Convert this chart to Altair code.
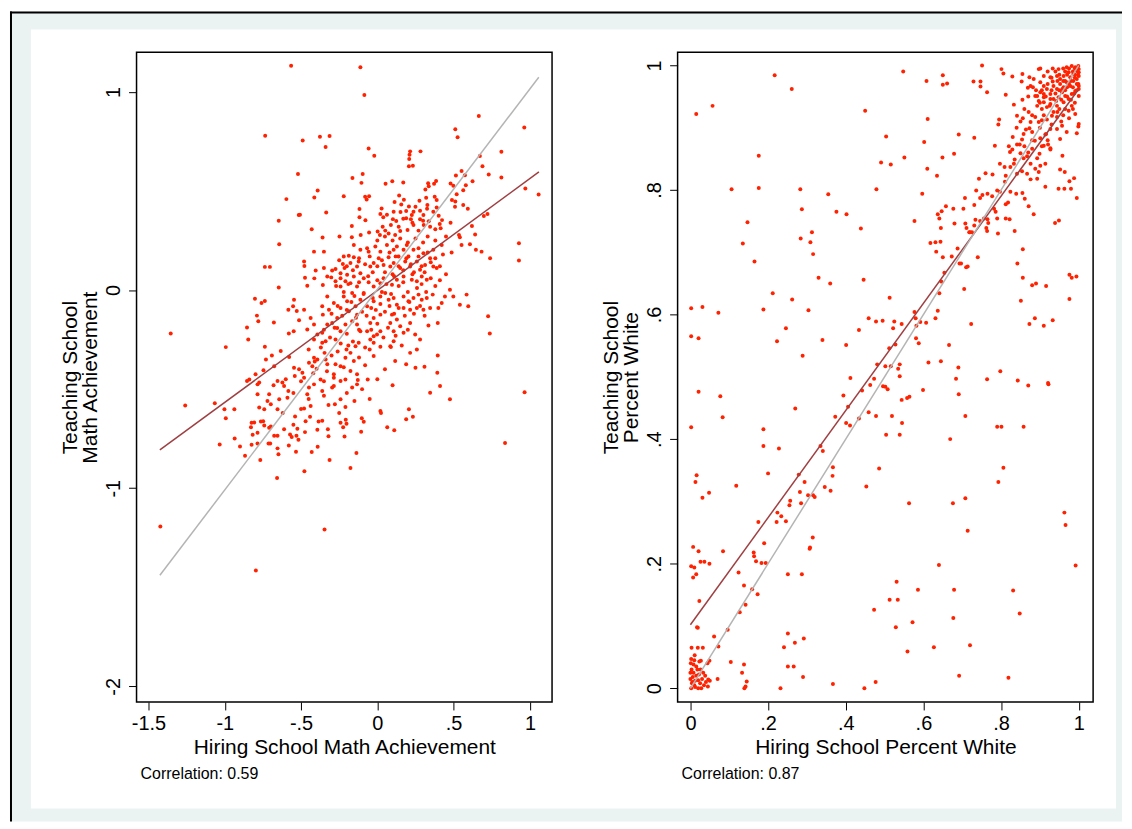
import altair as alt
import pandas as pd

# ---------------- data ----------------
# Left panel: (hiring school math achievement, teaching school math achievement)
math_points = [
(-0.565,1.132),(-0.111,1.124),(-0.085,0.985),(-0.735,0.779),(-0.489,0.755),(-0.376,0.774),(-0.313,0.777),(-0.339,0.722),
(-0.057,0.714),(-0.02,0.678),(0.215,0.700),(0.211,0.683),(0.209,0.662),(0.207,0.625),(0.233,0.628),(0.283,0.700),
(0.665,0.878),(0.511,0.812),(0.526,0.771),(0.963,0.821),(0.813,0.698),(0.672,0.677),(0.689,0.625),(0.730,0.583),
(0.813,0.568),(0.970,0.513),(1.057,0.482),(-0.520,0.586),(-0.596,0.459),(-0.646,0.350),(-0.515,0.379),(-0.507,0.380),
(-0.413,0.467),(-0.391,0.503),(-0.335,0.392),(-0.430,0.307),(-0.359,0.265),(-0.248,0.270),(-0.220,0.474),(-0.163,0.566),
(-0.096,0.586),(-0.104,0.541),(-0.080,0.471),(-0.054,0.474),(-0.07,0.457),(-0.117,0.409),(-0.117,0.367),(-0.078,0.352),
(-0.167,0.323),(-0.167,0.266),(-0.109,0.278),(-0.054,0.290),(0.054,0.536),(0.098,0.549),(0.170,0.543),(0.143,0.477),
(0.174,0.456),(0.113,0.444),(0.157,0.432),(0.207,0.422),(0.028,0.412),(0.02,0.384),(0.063,0.380),(0.107,0.395),
(0.152,0.394),(0.189,0.399),(0.237,0.395),(0.226,0.379),(0.220,0.358),(0.189,0.363),(0.039,0.367),(0.102,0.358),
(0.124,0.348),(0.089,0.328),(0.035,0.320),(0.052,0.300),(0.002,0.296),(0.017,0.278),(0.074,0.286),(0.117,0.278),
(0.150,0.298),(0.198,0.303),(0.237,0.328),(0.276,0.451),(0.333,0.539),(0.385,0.551),(0.372,0.536),(0.337,0.524),
(0.315,0.508),(0.320,0.466),(0.376,0.471),(0.389,0.454),(0.328,0.429),(0.326,0.410),(0.389,0.417),(0.367,0.395),
(0.302,0.379),(0.280,0.357),(0.337,0.347),(0.402,0.375),(0.424,0.353),(0.409,0.333),(0.415,0.312),(0.346,0.320),
(0.304,0.328),(0.380,0.307),(0.480,0.340),(0.480,0.538),(0.498,0.526),(0.515,0.578),(0.552,0.601),(0.574,0.580),
(0.580,0.529),(0.563,0.504),(0.520,0.484),(0.489,0.454),(0.511,0.447),(0.509,0.420),(0.563,0.429),(0.593,0.410),
(0.624,0.549),(0.698,0.374),(0.722,0.384),(0.620,0.323),(0.641,0.281),(0.535,0.278),(0.541,0.266),(0.450,0.270),
(0.928,0.236),
(-0.643,0.231),(-0.415,0.194),(-0.35,0.194),(-0.737,0.117),(-0.704,0.117),(-0.480,0.144),(-0.478,0.122),(-0.404,0.099),
(-0.35,0.111),(-0.474,0.062),(-0.459,0.022),(-0.413,0.059),(-0.357,0.025),(-0.646,0.013),(-0.296,0.099),(-0.274,0.106),
(-0.302,0.064),(-0.241,0.060),(-0.226,0.132),(-0.220,0.169),(-0.187,0.173),(-0.154,0.228),(-0.111,0.203),(-0.067,0.211),
(-0.057,0.194),(-0.013,0.220),(0.02,0.194),(0.063,0.228),(0.107,0.203),(0.128,0.220),(0.172,0.203),(0.193,0.228),
(0.237,0.203),(0.270,0.211),(0.302,0.186),(0.367,0.203),(0.422,0.228),(0.487,0.189),(0.552,0.228),(0.607,0.231),
(0.646,0.203),(0.683,0.194),(0.739,0.161),(0.928,0.149),
(-0.154,0.166),(-0.122,0.144),(-0.176,0.136),(-0.133,0.119),(-0.215,0.111),(-0.241,0.085),(-0.198,0.077),(-0.154,0.069),
(-0.111,0.085),(-0.089,0.060),(-0.024,0.136),(-0.046,0.119),(0.009,0.161),(0.041,0.127),(0.074,0.166),(0.085,0.119),
(0.107,0.136),(0.139,0.169),(0.150,0.111),(0.183,0.144),(0.204,0.169),(0.215,0.119),(0.259,0.144),(0.280,0.102),
(0.313,0.127),(0.346,0.161),(0.367,0.119),(0.389,0.111),(0.291,0.069),(0.324,0.052),(0.259,0.044),(0.226,0.052),
(0.172,0.069),(0.128,0.052),(0.096,0.027),(0.041,0.060),(0.020,0.035),(-0.024,0.018),(-0.057,0.039),(-0.133,0.018),
(-0.176,0.035),(-0.241,0.018),(-0.274,0.044),(-0.328,0.069),(-0.209,0.044),
(-0.802,-0.044),(-0.759,-0.065),(-0.737,-0.055),(-0.546,-0.049),(-0.583,-0.099),(-0.552,-0.082),(-0.528,-0.106),(-0.480,-0.099),
(-0.437,-0.141),(-0.789,-0.129),(-0.780,-0.157),(-0.678,-0.164),(-0.854,-0.189),(-0.846,-0.250),(-0.580,-0.219),(-0.548,-0.208),
(-0.513,-0.152),(-0.459,-0.199),(-0.415,-0.174),(-0.361,-0.082),(-0.357,-0.124),(-0.328,-0.032),(-0.317,-0.099),(-0.296,-0.166),
(-0.263,-0.141),(-0.241,-0.090),(-0.285,-0.065),(-0.220,-0.032),(-0.198,-0.057),(-0.165,-0.015),(-0.187,-0.107),(-0.143,-0.082),
(-0.111,-0.049),(-0.089,-0.015),(-0.133,-0.124),(-0.165,-0.157),(-0.209,-0.174),(-0.241,-0.208),(-0.263,-0.191),(-0.328,-0.174),
(-0.361,-0.216),(-0.393,-0.224),(-0.415,-0.250),(-0.339,-0.258),(-0.274,-0.250),(-0.133,-0.174),(-0.111,-0.208),(-0.067,-0.208),
(-0.024,-0.233),(-0.002,-0.224),(-0.046,-0.250),(0.020,-0.208),(-0.067,-0.082),(-0.024,-0.057),(0.020,-0.032),(0.052,-0.015),
(0.074,-0.049),(0.107,-0.040),(0.128,-0.074),(0.172,-0.032),(0.204,-0.057),(0.237,-0.040),(0.270,-0.023),(0.291,-0.049),
(0.324,-0.040),(0.363,-0.023),(0.172,-0.090),(0.215,-0.099),(0.259,-0.090),(0.302,-0.099),(0.346,-0.090),(0.4,-0.090),
(0.422,-0.065),(0.443,-0.032),(0.476,0.002),(0.498,-0.032),(0.541,-0.074),(0.585,-0.023),(0.596,-0.082),(0.726,-0.132),
(0.737,-0.219),(0.096,-0.124),(0.128,-0.149),(0.085,-0.166),(0.150,-0.183),(0.107,-0.208),(0.172,-0.216),(0.215,-0.166),
(0.248,-0.224),(0.280,-0.250),(0.107,-0.258),(0.085,-0.283),(-0.024,-0.266),(0.335,-0.179),(0.396,-0.166),(0.020,-0.124),
(-0.024,-0.141),(-0.046,-0.166),
(-1.354,-0.219),(-0.993,-0.288),(-1.259,-0.583),(-1.065,-0.571),(-1.002,-0.601),(-0.937,-0.601),(-0.854,-0.459),(-0.839,-0.451),
(-0.798,-0.425),(-0.746,-0.405),(-0.737,-0.286),(-0.730,-0.350),(-0.691,-0.330),(-0.633,-0.308),(-0.578,-0.338),(-0.676,-0.384),
(-0.654,-0.459),(-0.622,-0.467),(-0.611,-0.484),(-0.643,-0.551),(-0.785,-0.526),(-0.785,-0.476),(-0.774,-0.467),(-0.709,-0.526),
(-0.698,-0.576),(-0.774,-0.593),(-0.741,-0.601),(-0.654,-0.601),(-0.589,-0.543),(-0.583,-0.509),(-0.546,-0.392),(-0.541,-0.434),
(-0.513,-0.400),(-0.491,-0.417),(-0.480,-0.442),(-0.448,-0.367),(-0.426,-0.384),(-0.415,-0.342),(-0.393,-0.350),(-0.361,-0.266),
(-0.346,-0.317),(-0.339,-0.350),(-0.328,-0.375),(-0.398,-0.397),(-0.372,-0.451),(-0.415,-0.476),(-0.448,-0.492),(-0.459,-0.526),
(-0.437,-0.585),(-0.480,-0.598),(-0.361,-0.509),(-0.35,-0.534),(-0.285,-0.425),(-0.285,-0.442),(-0.274,-0.375),(-0.241,-0.384),
(-0.209,-0.342),(-0.176,-0.317),(-0.154,-0.358),(-0.176,-0.409),(-0.209,-0.451),(-0.241,-0.459),(-0.285,-0.484),(-0.296,-0.492),
(-0.241,-0.551),(-0.209,-0.590),(-0.278,-0.576),(-0.165,-0.492),(-0.133,-0.425),(-0.128,-0.454),(-0.133,-0.476),(-0.063,-0.451),
(-0.024,-0.333),(0.020,-0.286),(0.089,-0.288),(0.117,-0.358),(0.189,-0.375),(0.215,-0.317),(0.259,-0.300),(0.25,-0.392),
(0.309,-0.387),(0.346,-0.518),(0.396,-0.330),(0.393,-0.417),(0.411,-0.484),(0.476,-0.551),(0.965,-0.516),(0.020,-0.610),
(0.207,-0.601),(-0.143,-0.283),(-0.122,-0.266),(-0.202,-0.300),
(-0.993,-0.647),(-1.033,-0.779),(-0.935,-0.749),(-0.9,-0.789),(-0.867,-0.836),(-0.828,-0.692),(-0.824,-0.670),(-0.807,-0.668),
(-0.817,-0.730),(-0.824,-0.781),(-0.785,-0.720),(-0.785,-0.774),(-0.767,-0.858),(-0.763,-0.663),(-0.748,-0.662),(-0.741,-0.683),
(-0.709,-0.695),(-0.698,-0.688),(-0.713,-0.774),(-0.702,-0.774),(-0.676,-0.735),(-0.654,-0.735),(-0.654,-0.799),(-0.648,-0.829),
(-0.657,-0.948),(-0.611,-0.702),(-0.580,-0.784),(-0.572,-0.729),(-0.561,-0.742),(-0.539,-0.638),(-0.530,-0.735),(-0.524,-0.700),
(-0.517,-0.756),(-0.533,-0.816),(-0.478,-0.915),(-0.474,-0.717),(-0.470,-0.662),(-0.441,-0.640),(-0.430,-0.817),(-0.393,-0.705),
(-0.391,-0.791),(-0.385,-0.663),(-0.361,-0.660),(-0.324,-0.703),(-0.320,-0.738),(-0.313,-0.858),(-0.241,-0.670),(-0.224,-0.692),
(-0.215,-0.739),(-0.207,-0.655),(-0.202,-0.675),(-0.176,-0.898),(-0.137,-0.822),(-0.106,-0.715),(-0.102,-0.647),(-0.089,-0.665),
(0.024,-0.621),(0.065,-0.693),(0.111,-0.708),(0.189,-0.652),(0.233,-0.640),(0.837,-0.772),(-1.422,-1.193),(-0.346,-1.209),
(-0.796,-1.415),
# denser core of the cloud
(-0.25,0.15),(-0.2,0.12),(-0.16,0.1),(-0.12,0.16),(-0.08,0.13),(-0.05,0.17),(-0.03,0.09),(0.0,0.12),(0.03,0.15),(0.05,0.09),
(0.08,0.19),(0.1,0.08),(0.12,0.17),(0.14,0.12),(0.17,0.1),(0.19,0.16),(0.22,0.13),(0.24,0.09),(0.27,0.17),(0.29,0.12),
(0.31,0.09),(0.33,0.19),(0.35,0.14),(0.38,0.16),(0.41,0.12),(0.43,0.18),
(-0.27,0.02),(-0.22,-0.01),(-0.19,0.03),(-0.15,-0.03),(-0.12,0.04),(-0.09,-0.02),(-0.06,0.07),(-0.03,-0.04),(0.0,0.05),(0.03,-0.01),
(0.06,0.03),(0.09,-0.02),(0.11,0.07),(0.14,0.02),(0.17,0.04),(0.2,-0.01),(0.23,0.08),(0.26,0.01),(0.29,0.03),(0.32,-0.01),
(0.35,0.06),(0.38,0.02),(0.41,0.05),(0.45,0.08),
(-0.3,-0.12),(-0.26,-0.08),(-0.23,-0.13),(-0.2,-0.1),(-0.17,-0.06),(-0.14,-0.14),(-0.1,-0.11),(-0.07,-0.13),(-0.04,-0.09),(-0.01,-0.1),
(0.02,-0.07),(0.05,-0.11),(0.08,-0.08),(0.11,-0.12),(0.14,-0.09),(0.18,-0.13),(0.21,-0.06),(0.24,-0.12),(0.28,-0.08),(0.31,-0.13),
(-0.35,-0.2),(-0.31,-0.24),(-0.28,-0.19),(-0.24,-0.27),(-0.2,-0.22),(-0.16,-0.26),(-0.12,-0.2),(-0.08,-0.29),(-0.04,-0.2),(0.0,-0.17),
(0.04,-0.24),(0.07,-0.19),(0.12,-0.23),(0.16,-0.28),(0.2,-0.2),
(-0.45,-0.3),(-0.41,-0.36),(-0.37,-0.29),(-0.33,-0.41),(-0.3,-0.33),(-0.26,-0.31),(-0.22,-0.39),(-0.19,-0.28),(-0.12,-0.34),(-0.08,-0.38),
(-0.05,-0.3),
(0.0,0.25),(0.05,0.27),(0.1,0.25),(0.15,0.26),(0.2,0.24),(0.25,0.26),(0.3,0.24),(0.33,0.27),(0.38,0.25),(0.27,0.3),
(0.3,0.35),(0.23,0.34),(0.25,0.42),(0.28,0.4),(0.14,0.32),(0.17,0.36),
(-0.55,-0.52),(-0.5,-0.6),(-0.45,-0.55),(-0.6,-0.45),(-0.68,-0.48),(-0.72,-0.56),(-0.62,-0.62),(-0.55,-0.68),(-0.5,-0.46),(-0.42,-0.42),
(-0.35,-0.46),(-0.32,-0.58),(-0.25,-0.62),(-0.2,-0.52),(-0.15,-0.56),(-0.1,-0.5),(-0.05,-0.55),(0.0,-0.45),(0.05,-0.4),(0.1,-0.48),
]

# Right panel: (hiring school percent white, teaching school percent white)
white_points = [
(0.217,0.984),(0.261,0.962),(0.057,0.935),(0.015,0.922),(0.450,0.927),(0.548,0.990),(0.608,0.975),(0.650,0.984),
(0.650,0.969),(0.661,0.971),(0.729,0.974),(0.747,0.974),(0.747,0.966),(0.764,0.957),(0.751,1.0),(0.801,0.994),
(0.806,0.987),(0.829,0.982),(0.855,0.986),(0.853,0.974),(0.873,0.981),(0.812,0.953),(0.833,0.937),(0.855,0.945),
(0.611,0.914),(0.504,0.886),(0.602,0.877),(0.691,0.889),(0.731,0.884),(0.176,0.855),(0.491,0.844),(0.516,0.841),
(0.551,0.852),(0.649,0.852),(0.679,0.858),(0.610,0.834),(0.635,0.823),(0.106,0.801),(0.176,0.803),(0.283,0.801),
(0.355,0.793),(0.479,0.801),(0.597,0.794),(0.287,0.769),(0.376,0.765),(0.402,0.761),(0.637,0.761),
(0.647,0.766),(0.658,0.774),(0.677,0.770),(0.703,0.770),(0.707,0.787),(0.731,0.776),(0.746,0.787),(0.752,0.792),
(0.765,0.794),(0.736,0.799),(0.743,0.818),(0.760,0.827),(0.778,0.825),(0.784,0.871),(0.793,0.905),(0.795,0.913),
(0.797,0.842),(0.809,0.837),(0.812,0.823),(0.810,0.813),(0.797,0.797),(0.790,0.799),(0.777,0.790),(0.782,0.770),
(0.786,0.765),(0.812,0.777),(0.818,0.780),(0.824,0.797),(0.839,0.794),(0.855,0.795),(0.861,0.786),(0.871,0.774),
(0.884,0.761),(0.824,0.837),(0.833,0.842),(0.841,0.826),(0.854,0.830),(0.867,0.826),(0.876,0.817),(0.893,0.818),
(0.914,0.805),(0.948,0.802),(0.963,0.802),(0.980,0.802),(0.995,0.787),(0.988,0.819),(0.976,0.814),(0.964,0.829),
(0.952,0.833),(0.958,0.855),(0.823,0.861),(0.829,0.865),(0.835,0.849),(0.850,0.859),(0.858,0.851),(0.867,0.854),
(0.880,0.866),(0.893,0.851),(0.899,0.858),(0.910,0.871),(0.927,0.865),(0.876,0.842),(0.901,0.839),(0.888,0.834),
(0.897,0.829),(0.914,0.842),(0.841,0.873),(0.848,0.873),(0.854,0.881),(0.858,0.890),(0.864,0.897),(0.873,0.899),
(0.880,0.893),(0.887,0.879),(0.901,0.883),(0.914,0.889),(0.921,0.873),(0.927,0.867),(0.944,0.898),(0.927,0.898),
(0.916,0.890),(0.952,0.882),(0.841,0.919),(0.856,0.915),(0.871,0.925),(0.876,0.909),(0.888,0.917),(0.897,0.909),
(0.905,0.912),(0.918,0.913),(0.931,0.919),(0.944,0.917),(0.957,0.903),(0.969,0.893),(0.995,0.891),(1.0,0.906),
(0.999,0.902),(0.893,0.935),(0.905,0.930),(0.910,0.941),(0.918,0.933),(0.927,0.938),(0.944,0.935),(0.961,0.941),
(0.982,0.935),(0.991,0.922),(0.974,0.927),(0.965,0.930),
(0.893,0.951),(0.901,0.957),(0.910,0.949),(0.918,0.962),(0.927,0.954),(0.935,0.967),(0.944,0.962),(0.952,0.970),
(0.961,0.965),(0.969,0.973),(0.978,0.967),(0.986,0.975),(0.995,0.978),(1.0,0.983),(0.999,0.970),(0.991,0.959),
(0.982,0.954),(0.974,0.946),(0.965,0.951),(0.957,0.957),(0.948,0.949),(0.935,0.946),(0.927,0.946),(0.897,0.994),
(0.901,0.995),(0.933,0.995),(0.948,0.994),(0.969,0.997),(0.982,0.999),(0.991,0.997),(0.999,0.999),(1.0,0.994),
(0.974,0.989),(0.961,0.983),(0.944,0.983),(0.927,0.981),(0.910,0.983),(0.884,0.978),(0.876,0.967),(0.882,0.965),
(0.901,0.973),(0.910,0.967),(0.933,0.974),(0.952,0.978),(0.965,0.975),(0.978,0.981),(0.986,0.986),(0.995,0.991),
(1.0,0.989),(1.0,0.962),(1.0,0.951),(1.0,0.967),(0.869,0.964),(0.888,0.951),(0.897,0.943),(0.910,0.954),
(0.94,0.955),(0.955,0.945),(0.965,0.96),(0.975,0.97),(0.985,0.965),(0.99,0.98),(0.995,0.96),(0.97,0.985),
(0.96,0.975),(0.95,0.985),(0.985,0.99),(0.975,0.995),(0.965,0.99),(0.99,0.995),(0.998,0.985),(0.92,0.97),
(0.93,0.96),(0.945,0.975),(0.98,0.945),(0.99,0.94),(0.96,0.92),(0.95,0.93),(0.935,0.925),(0.97,0.95),
(0.988,0.955),(0.958,0.962),(0.942,0.943),(0.925,0.935),(0.915,0.95),(0.905,0.96),
(0.86,0.93),(0.87,0.95),(0.88,0.92),(0.89,0.96),(0.9,0.94),(0.91,0.92),(0.92,0.99),(0.93,0.98),(0.94,0.99),(0.95,0.96),
(0.96,0.995),(0.97,0.965),(0.98,0.975),(0.99,0.985),(0.995,0.97),(0.985,0.93),(0.975,0.915),(0.955,0.91),(0.945,0.925),(0.93,0.905),
(0.92,0.88),(0.905,0.87),(0.9,0.9),(0.88,0.88),(0.87,0.86),(0.86,0.87),(0.85,0.91),(0.84,0.9),(0.83,0.885),(0.82,0.87),
(0.147,0.748),(0.135,0.714),(0.165,0.685),(0.284,0.722),(0.313,0.732),(0.309,0.716),(0.316,0.697),(0.330,0.659),
(0.360,0.650),(0.212,0.634),(0.262,0.624),(0.188,0.608),(0.304,0.607),(0.002,0.610),(0.031,0.612),(0.072,0.603),
(0.002,0.565),(0.021,0.562),(0.246,0.578),(0.223,0.557),(0.289,0.534),(0.340,0.559),(0.401,0.551),(0.434,0.575),
(0.459,0.594),(0.439,0.738),(0.446,0.656),(0.513,0.627),(0.577,0.750),(0.478,0.589),(0.495,0.590),(0.525,0.589),
(0.522,0.578),(0.544,0.585),(0.528,0.552),(0.512,0.546),(0.481,0.520),(0.502,0.517),(0.516,0.517),(0.539,0.520),
(0.535,0.513),(0.539,0.501),(0.473,0.497),(0.412,0.498),(0.577,0.604),(0.580,0.594),(0.592,0.588),(0.607,0.587),
(0.582,0.582),(0.581,0.562),(0.588,0.554),(0.613,0.523),(0.645,0.525),(0.690,0.515),(0.684,0.497),(0.666,0.551),
(0.631,0.594),(0.637,0.606),(0.641,0.634),(0.646,0.653),(0.654,0.667),(0.650,0.692),(0.673,0.693),(0.633,0.701),
(0.618,0.715),(0.631,0.716),(0.644,0.717),(0.645,0.739),(0.641,0.754),(0.680,0.746),(0.718,0.732),(0.708,0.746),
(0.711,0.739),(0.720,0.732),(0.725,0.732),(0.731,0.743),(0.734,0.752),(0.746,0.750),(0.756,0.754),(0.765,0.753),
(0.767,0.747),(0.762,0.739),(0.764,0.734),(0.792,0.730),(0.790,0.754),(0.812,0.754),(0.822,0.753),(0.835,0.734),
(0.856,0.705),(0.842,0.682),(0.856,0.659),(0.851,0.622),(0.880,0.647),(0.890,0.650),(0.916,0.646),(0.939,0.747),
(0.949,0.751),(0.976,0.664),(0.982,0.659),(0.994,0.661),(0.976,0.625),(0.873,0.585),(0.887,0.594),(0.910,0.582),
(0.933,0.591),(0.688,0.706),(0.693,0.682),(0.697,0.682),(0.710,0.676),(0.714,0.677),(0.740,0.692),(0.705,0.641),
(0.723,0.585),(0.798,0.509),(0.764,0.496),(0.843,0.494),(0.921,0.490),
(0.021,0.476),(0.077,0.469),(0.083,0.435),(0.002,0.419),(0.188,0.416),(0.188,0.389),(0.228,0.385),(0.270,0.449),
(0.200,0.345),(0.118,0.325),(0.016,0.342),(0.013,0.331),(0.048,0.314),(0.031,0.306),(0.175,0.267),(0.190,0.233),
(0.007,0.227),(0.224,0.282),(0.234,0.276),(0.222,0.267),(0.246,0.268),(0.255,0.294),(0.257,0.301),(0.285,0.297),
(0.282,0.315),(0.294,0.331),(0.279,0.343),(0.303,0.310),(0.316,0.310),(0.320,0.307),(0.335,0.389),(0.341,0.381),
(0.346,0.323),(0.361,0.317),(0.366,0.341),(0.367,0.355),(0.315,0.242),(0.308,0.226),(0.373,0.436),(0.394,0.470),
(0.406,0.452),(0.401,0.426),(0.411,0.422),(0.434,0.433),(0.442,0.478),(0.463,0.487),(0.459,0.443),(0.478,0.437),
(0.486,0.353),(0.453,0.324),(0.496,0.485),(0.502,0.484),(0.508,0.480),(0.504,0.407),(0.519,0.437),(0.539,0.407),
(0.545,0.426),(0.544,0.463),(0.558,0.466),(0.564,0.468),(0.599,0.479),(0.563,0.297),(0.669,0.400),(0.676,0.297),
(0.691,0.472),(0.708,0.437),(0.708,0.305),(0.714,0.253),(0.790,0.420),(0.801,0.420),(0.858,0.420),(0.806,0.354),
(0.793,0.331),(0.870,0.486),(0.922,0.488),(0.963,0.282),(0.966,0.262),
(0.021,0.220),(0.084,0.220),(0.002,0.196),(0.010,0.194),(0.026,0.203),(0.036,0.203),(0.049,0.200),(0.015,0.183),
(0.007,0.178),(0.163,0.218),(0.164,0.212),(0.169,0.204),(0.183,0.201),(0.194,0.201),(0.124,0.186),(0.138,0.165),
(0.159,0.159),(0.173,0.151),(0.142,0.134),(0.127,0.122),(0.023,0.140),(0.017,0.098),(0.019,0.097),(0.061,0.083),
(0.096,0.094),(0.003,0.065),(0.019,0.065),(0.032,0.065),(0.072,0.067),(0.011,0.053),(0.002,0.047),(0.023,0.043),
(0.027,0.044),(0.049,0.044),(0.044,0.040),(0.104,0.042),(0.138,0.038),(0.133,0.025),(0.070,0.015),(0.046,0.014),
(0.145,0.011),(0.139,0.0),(0.142,0.003),(0.232,0.0),(0.251,0.183),(0.287,0.183),(0.307,0.224),(0.251,0.088),
(0.292,0.080),(0.269,0.073),(0.241,0.066),(0.251,0.035),(0.266,0.035),(0.290,0.018),(0.367,0.007),(0.448,0.0),
(0.477,0.010),(0.640,0.198),(0.531,0.171),(0.586,0.158),(0.513,0.142),(0.534,0.142),(0.473,0.126),(0.529,0.098),
(0.572,0.106),(0.559,0.059),(0.627,0.066),(0.679,0.158),(0.677,0.113),(0.720,0.069),(0.692,0.020),(0.831,0.157),
(0.848,0.120),(0.819,0.017),(0.992,0.197),
(0.002,0.0),(0.005,0.01),(0.01,0.005),(0.015,0.02),(0.02,0.0),(0.008,0.025),(0.003,0.03),(0.012,0.012),
(0.025,0.008),(0.03,0.015),(0.018,0.03),(0.006,0.018),(0.035,0.005),(0.04,0.01),(0.022,0.022),(0.0,0.015),
(0.001,0.04),(0.015,0.035),(0.028,0.0),(0.045,0.003),(0.01,0.045),(0.05,0.012),(0.033,0.025),(0.004,0.008),
(0.02,0.013),(0.012,0.002),(0.038,0.02),(0.0,0.025),(0.026,0.03),(0.008,0.038),
]

# fitted line and 45-degree line endpoints
math_fit = [(-1.425, -0.807), (1.059, 0.596)]
math_diag = [(-1.425, -1.439), (1.058, 1.074)]
white_fit = [(0.0, 0.102), (1.0, 0.962)]
white_diag = [(0.0, 0.0), (1.0, 1.0)]

math_xticks = [-1.5, -1, -0.5, 0, 0.5, 1]
math_yticks = [1, 0, -1, -2]
white_ticks = [0, 0.2, 0.4, 0.6, 0.8, 1]

math_note = "Correlation: 0.59"
white_note = "Correlation: 0.87"

# ---------------- styling ----------------
FONT = "Liberation Sans"
PW, PH = 417, 652
PT_COLOR = "#FF2200"
FIT_COLOR = "#9E3F42"
DIAG_COLOR = "#B4B4B4"
BAND = "#EAF2F2"
LABEL_EXPR = "replace(toString(datum.value), '0.', '.')"


def df_pts(pts):
    return pd.DataFrame({"x": [p[0] for p in pts], "y": [p[1] for p in pts]})


one = pd.DataFrame({"a": [0]})


def axis(values, title, vertical):
    kw = dict(values=values, title=title, labelExpr=LABEL_EXPR, grid=False, domain=False,
              ticks=True, tickSize=8, tickColor="black", tickWidth=1,
              labelFont=FONT, labelFontSize=20, labelColor="black",
              titleFont=FONT, titleFontSize=21, titleColor="black", titleFontWeight="normal",
              labelFlush=False, labelOverlap=False, zindex=1)
    if vertical:
        kw.update(labelAngle=270, labelAlign="center", labelBaseline="bottom",
                  labelPadding=5, titlePadding=3, titleLineHeight=20)
    else:
        kw.update(labelPadding=4, titlePadding=3)
    return alt.Axis(**kw)


def panel(points, fit, diag, xdom, ydom, xticks, yticks, xtitle, ytitle, note, deco):
    xs = alt.X("x:Q", scale=alt.Scale(domain=xdom, nice=False, zero=False),
               axis=axis(xticks, xtitle, False))
    ys = alt.Y("y:Q", scale=alt.Scale(domain=ydom, nice=False, zero=False),
               axis=axis(yticks, ytitle, True))
    layers = []
    if deco:
        layers.append(alt.Chart(one).mark_rect(color=BAND).encode(
            x=alt.value(-127), x2=alt.value(989), y=alt.value(-41), y2=alt.value(772)))
        layers.append(alt.Chart(one).mark_rect(color="white").encode(
            x=alt.value(-106), x2=alt.value(983), y=alt.value(-23), y2=alt.value(759)))
        layers.append(alt.Chart(one).mark_rule(color="black", strokeWidth=2).encode(
            x=alt.value(-127), x2=alt.value(989), y=alt.value(-40)))
        layers.append(alt.Chart(one).mark_rule(color="black", strokeWidth=2).encode(
            x=alt.value(-126), y=alt.value(-41), y2=alt.value(772)))
    pts = alt.Chart(df_pts(points)).mark_circle(size=16, color=PT_COLOR, opacity=1).encode(x=xs, y=ys)
    fit_l = alt.Chart(df_pts(fit)).mark_line(color=FIT_COLOR, strokeWidth=1.5).encode(x=xs, y=ys)
    diag_l = alt.Chart(df_pts(diag)).mark_line(color=DIAG_COLOR, strokeWidth=1.5).encode(x=xs, y=ys)
    frame = alt.Chart(one).mark_rect(fillOpacity=0, stroke="black", strokeWidth=1.5).encode(
        x=alt.value(0), x2=alt.value(PW), y=alt.value(0), y2=alt.value(PH))
    txt = alt.Chart(one).mark_text(text=note, font=FONT, fontSize=16, color="black",
                                   align="left", baseline="alphabetic").encode(
        x=alt.value(4), y=alt.value(729))
    layers += [pts, fit_l, diag_l, frame, txt]
    return alt.layer(*layers).properties(width=PW, height=PH)


left = panel(math_points, math_fit, math_diag, [-1.578, 1.145], [-2.079, 1.2],
             math_xticks, math_yticks, "Hiring School Math Achievement",
             ["Teaching School", "Math Achievement"], math_note, True)
right = panel(white_points, white_fit, white_diag, [-0.033, 1.037], [-0.022, 1.021],
              white_ticks, white_ticks, "Hiring School Percent White",
              ["Teaching School", "Percent White"], white_note, False)

chart = alt.hconcat(left, right, spacing=126, bounds="flush").properties(
    padding=0, background="white"
).configure_view(stroke="transparent")

chart.save("out.html", embed_options={"renderer": "svg", "actions": False})
